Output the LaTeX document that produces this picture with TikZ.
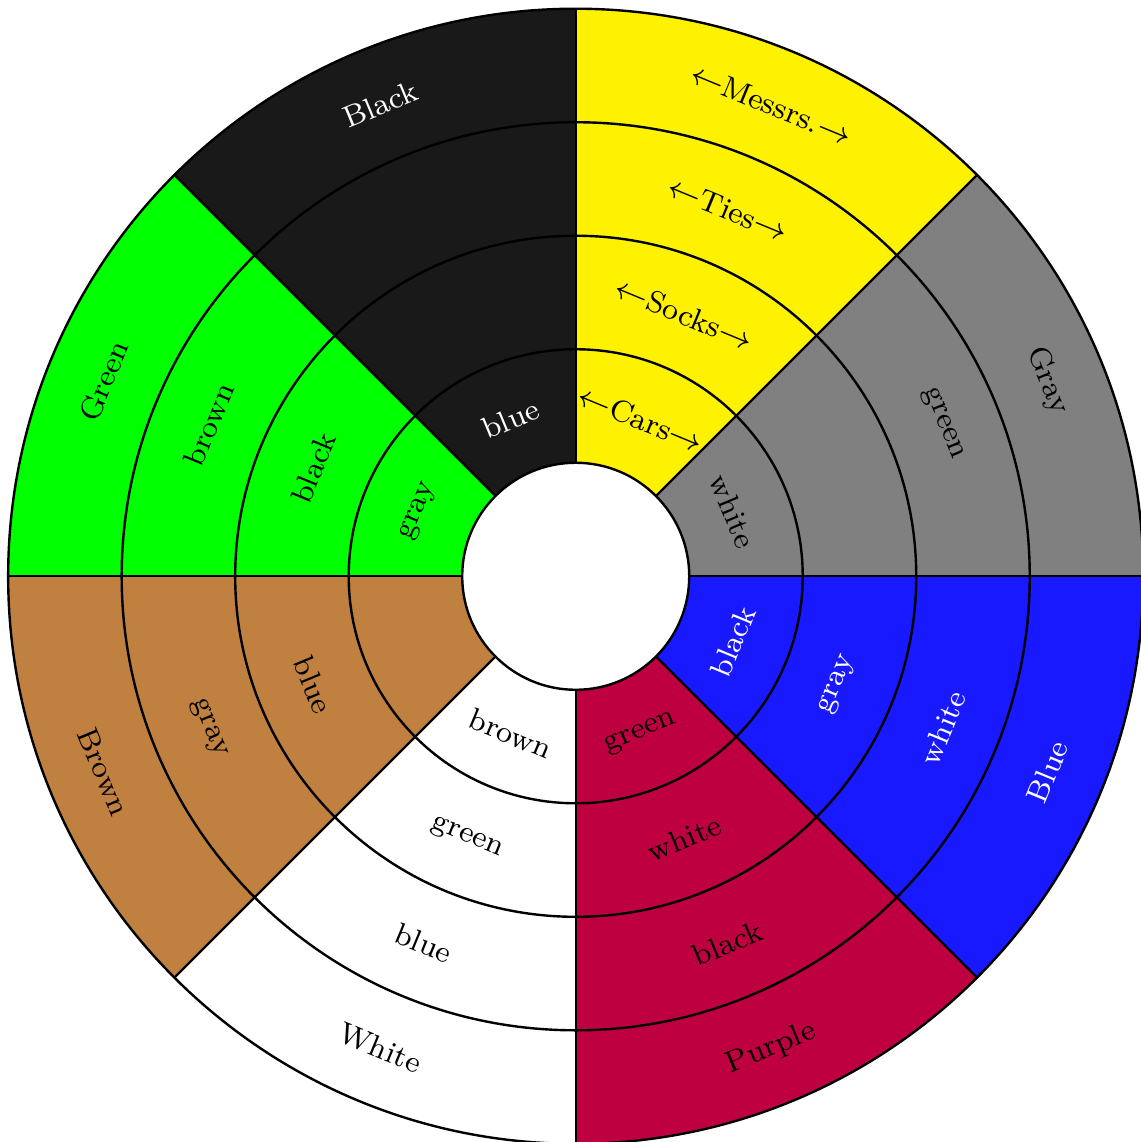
\documentclass[tikz,border=0pt]{standalone}
\begin{document}
\begin{tikzpicture}[
  ringline/.style={line width=0.6pt},
  lab/.style={font=\fontsize{7.6}{9}\selectfont, inner sep=0pt},
  labw/.style={lab, text=white},
]
\useasboundingbox (-5.072,-4.984) rectangle (4.972,5.077);
% sector fills
\foreach \a/\c in {45/yellow, 90/black!90, 135/green, 180/brown, 225/white, 270/purple, 315/blue!90, 0/gray}
  \fill[\c] (\a:1) arc[start angle=\a, end angle={\a+45}, radius=1] -- ({\a+45}:5)
     arc[start angle={\a+45}, end angle=\a, radius=5] -- cycle;
% rings and spokes
\foreach \r in {2,3,4,5} \draw[ringline] (0,0) circle[radius=\r];
\foreach \a in {0,45,...,315} \draw[ringline] (\a:1) -- (\a:5);
\draw[ringline, fill=white] (0,0) circle[radius=1];
% yellow sector
\node[lab, rotate=-22.5] (y1) at (67.5:1.5) {$\leftarrow$Cars$\rightarrow$};
\node[lab, rotate=-22.5] (y2) at (67.5:2.5) {$\leftarrow$Socks$\rightarrow$};
\node[lab, rotate=-22.5] (y3) at (67.5:3.5) {$\leftarrow$Ties$\rightarrow$};
\node[lab, rotate=-22.5] (y4) at (67.5:4.5) {$\leftarrow$Messrs.$\rightarrow$};
% gray sector
\node[lab, rotate=-67.5] (g1) at (22.5:1.5) {white};
\node[lab, rotate=-67.5] (g3) at (22.5:3.5) {green};
\node[lab, rotate=-67.5] (g4) at (22.5:4.5) {Gray};
% black sector
\node[labw, rotate=22.5] (k1) at (112.5:1.5) {blue};
\node[labw, rotate=22.5] (k4) at (112.5:4.5) {Black};
% green sector
\node[lab, rotate=67.5] (n1) at (157.5:1.5) {gray};
\node[lab, rotate=67.5] (n2) at (157.5:2.5) {black};
\node[lab, rotate=67.5] (n3) at (157.5:3.5) {brown};
\node[lab, rotate=67.5] (n4) at (157.5:4.5) {Green};
% brown sector
\node[lab, rotate=-67.5] (b2) at (202.5:2.5) {blue};
\node[lab, rotate=-67.5] (b3) at (202.5:3.5) {gray};
\node[lab, rotate=-67.5] (b4) at (202.5:4.5) {Brown};
% white sector
\node[lab, rotate=-22.5] (w1) at (247.5:1.5) {brown};
\node[lab, rotate=-22.5] (w2) at (247.5:2.5) {green};
\node[lab, rotate=-22.5] (w3) at (247.5:3.5) {blue};
\node[lab, rotate=-22.5] (w4) at (247.5:4.5) {White};
% purple sector
\node[lab, rotate=22.5] (p1) at (292.5:1.5) {green};
\node[lab, rotate=22.5] (p2) at (292.5:2.5) {white};
\node[lab, rotate=22.5] (p3) at (292.5:3.5) {black};
\node[lab, rotate=22.5] (p4) at (292.5:4.5) {Purple};
% blue sector
\node[labw, rotate=67.5] (u1) at (337.5:1.5) {black};
\node[labw, rotate=67.5] (u2) at (337.5:2.5) {gray};
\node[labw, rotate=67.5] (u3) at (337.5:3.5) {white};
\node[labw, rotate=67.5] (u4) at (337.5:4.5) {Blue};
\end{tikzpicture}
\end{document}
